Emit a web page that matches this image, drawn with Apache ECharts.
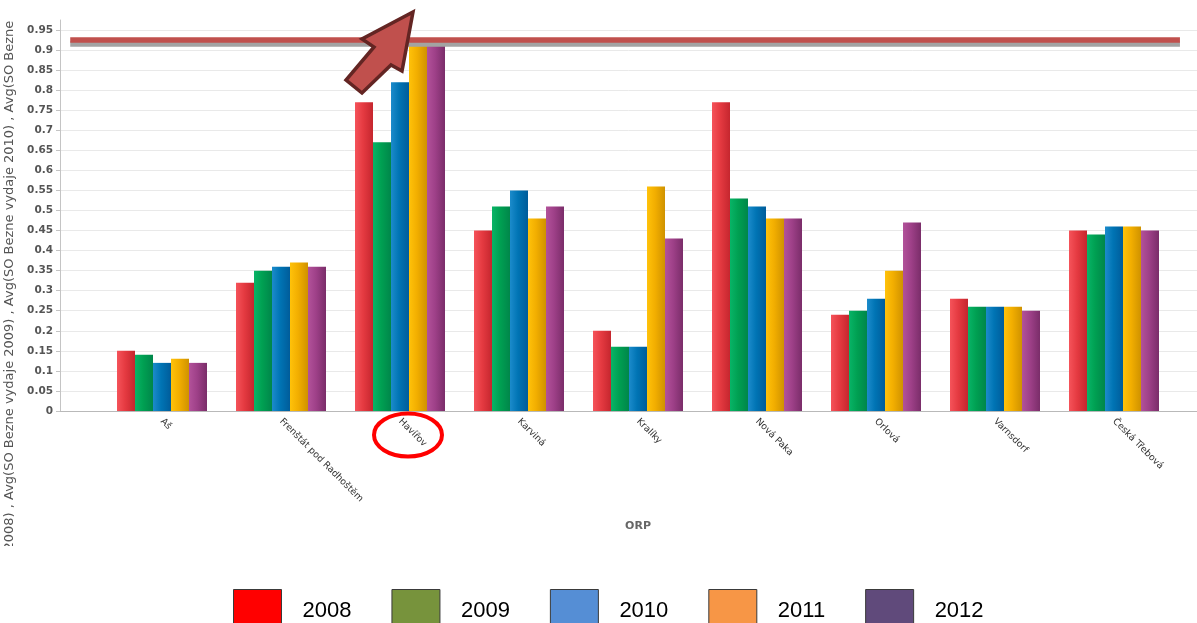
<!DOCTYPE html>
<html>
<head>
<meta charset="utf-8">
<script src="https://cdn.jsdelivr.net/npm/echarts@6/dist/echarts.min.js"></script>
<style>
html,body{margin:0;padding:0;background:#fff;}
#chart{width:1197px;height:623px;}
</style>
</head>
<body>
<div id="chart"></div>
<script>
// ---- data ----
const categories = ['Aš','Frenštát pod Radhoštěm','Havířov','Karviná','Kralíky','Nová Paka','Orlová','Varnsdorf','Česká Třebová'];
const years = ['2008','2009','2010','2011','2012'];
const v2008 = [0.15, 0.32, 0.77, 0.45, 0.20, 0.77, 0.24, 0.28, 0.45];
const v2009 = [0.14, 0.35, 0.67, 0.51, 0.16, 0.53, 0.25, 0.26, 0.44];
const v2010 = [0.12, 0.36, 0.82, 0.55, 0.16, 0.51, 0.28, 0.26, 0.46];
const v2011 = [0.13, 0.37, 0.91, 0.48, 0.56, 0.48, 0.35, 0.26, 0.46];
const v2012 = [0.12, 0.36, 0.92, 0.51, 0.43, 0.48, 0.47, 0.25, 0.45];
const seriesValues = [v2008, v2009, v2010, v2011, v2012];
const thresholdValue = 0.925;
const yMin = 0, yMax = 0.975, yStep = 0.05;
const yAxisTitle = 'Avg(SO Bezne vydaje 2008) , Avg(SO Bezne vydaje 2009) , Avg(SO Bezne vydaje 2010) , Avg(SO Bezne vydaje 2011) , Avg(SO Bezne vydaje 2012)';
const xAxisTitle = 'ORP';

// ---- styles ----
const barGradients = [
  ['#F5535A', '#E53A41', '#C5262E'],
  ['#08B467', '#00A052', '#00864A'],
  ['#1C8BCB', '#0074B4', '#005C9A'],
  ['#FFC20A', '#F2AE00', '#CF9200'],
  ['#B2529A', '#9E4088', '#7A2D69']
];
const legendColors = ['#FF0000', '#77933C', '#558ED5', '#F79646', '#604A7B'];

function grad(c){
  return new echarts.graphic.LinearGradient(0,0,1,0,[
    {offset:0,color:c[0]},{offset:0.45,color:c[1]},{offset:1,color:c[2]}
  ]);
}

const chart = echarts.init(document.getElementById('chart'), null, {renderer:'canvas'});

const barSeries = years.map((y,i)=>({
  name: y,
  type: 'bar',
  xAxisIndex: 1,
  yAxisIndex: 1,
  data: seriesValues[i],
  barWidth: 18,
  barGap: '0%',
  itemStyle: { color: grad(barGradients[i]) },
  emphasis: { disabled: true },
  z: 2
}));

const option = {
  animation: false,
  backgroundColor: '#fff',
  grid: [
    { left: 60, right: 0, top: 20, bottom: 212, containLabel: false, outerBoundsMode: 'none' },
    { left: 102.5, right: 23.5, top: 20, bottom: 212, containLabel: false, outerBoundsMode: 'none' }
  ],
  xAxis: [
    {
      type: 'value', gridIndex: 0, min: 0, max: 100,
      axisLine: { show: true, onZero: false, lineStyle: { color: '#b9b9b9', width: 1 } },
      axisTick: { show: false }, axisLabel: { show: false }, splitLine: { show: false }
    },
    {
      type: 'category', gridIndex: 1, data: categories,
      axisLine: { show: false }, axisTick: { show: false },
      axisLabel: {
        rotate: -45, margin: 9, interval: 0,
        color: '#333', fontSize: 9.3, fontFamily: 'DejaVu Sans'
      },
      name: xAxisTitle, nameLocation: 'middle', nameGap: 110,
      nameTextStyle: { color: '#666', fontSize: 11, fontWeight: 'bold', fontFamily: 'DejaVu Sans' }
    }
  ],
  yAxis: [
    {
      type: 'value', gridIndex: 0, min: yMin, max: yMax, interval: yStep,
      axisLine: { show: true, lineStyle: { color: '#c4c4c4' } },
      axisTick: { show: true, length: 4, lineStyle: { color: '#c4c4c4' } },
      axisLabel: {
        showMaxLabel: false, margin: 7,
        color: '#555', fontSize: 10.5, fontWeight: 'bold', fontFamily: 'DejaVu Sans'
      },
      splitLine: { show: true, showMaxLine: false, lineStyle: { color: '#e9e9e9', width: 1 } },
      name: yAxisTitle, nameLocation: 'middle', nameGap: 42,
      nameTextStyle: { color: '#555', fontSize: 13, fontFamily: 'DejaVu Sans' }
    },
    {
      type: 'value', gridIndex: 1, min: yMin, max: yMax, interval: yStep, show: false,
      splitLine: { show: false }
    }
  ],
  legend: {
    data: years.map((y,i)=>({ name: y, icon: 'rect',
      itemStyle: { color: legendColors[i], borderColor: '#3a3a3a', borderWidth: 1 } })),
    left: 233, top: 589, padding: 0,
    itemWidth: 48, itemHeight: 42, itemGap: 40,
    selectedMode: false,
    textStyle: { color: '#000', fontSize: 22, fontFamily: 'Liberation Sans', padding: [0,0,0,16] }
  },
  series: barSeries.concat([{
    name: 'threshold', type: 'scatter', xAxisIndex: 0, yAxisIndex: 0, data: [],
    silent: true, z: 6,
    markLine: {
      silent: true, symbol: 'none', label: { show: false },
      lineStyle: { color: '#C0504D', width: 5.5, type: 'solid',
        shadowColor: '#a3a3a3', shadowOffsetY: 4, shadowBlur: 0 },
      data: [[{ coord: [0.9, thresholdValue] }, { coord: [98.5, thresholdValue] }]]
    }
  }]),
  graphic: [
    // the source chart image crops its rotated axis title at top and bottom
    { type: 'rect', z: 90, shape: { x: 0, y: 0, width: 34, height: 18 }, style: { fill: '#fff' } },
    { type: 'rect', z: 90, shape: { x: 0, y: 546, width: 34, height: 77 }, style: { fill: '#fff' } },
    {
      type: 'polygon', z: 100,
      shape: { points: [[413,12],[402,71],[391,65],[362,93],[346,80],[374,47],[362,39]] },
      style: { fill: '#C0504D', stroke: '#632523', lineWidth: 3.5, lineJoin: 'miter' }
    },
    {
      type: 'ellipse', z: 100,
      shape: { cx: 408, cy: 435, rx: 34, ry: 21.5 },
      style: { fill: 'none', stroke: '#FF0000', lineWidth: 4 }
    }
  ]
};

chart.setOption(option);
</script>
</body>
</html>
